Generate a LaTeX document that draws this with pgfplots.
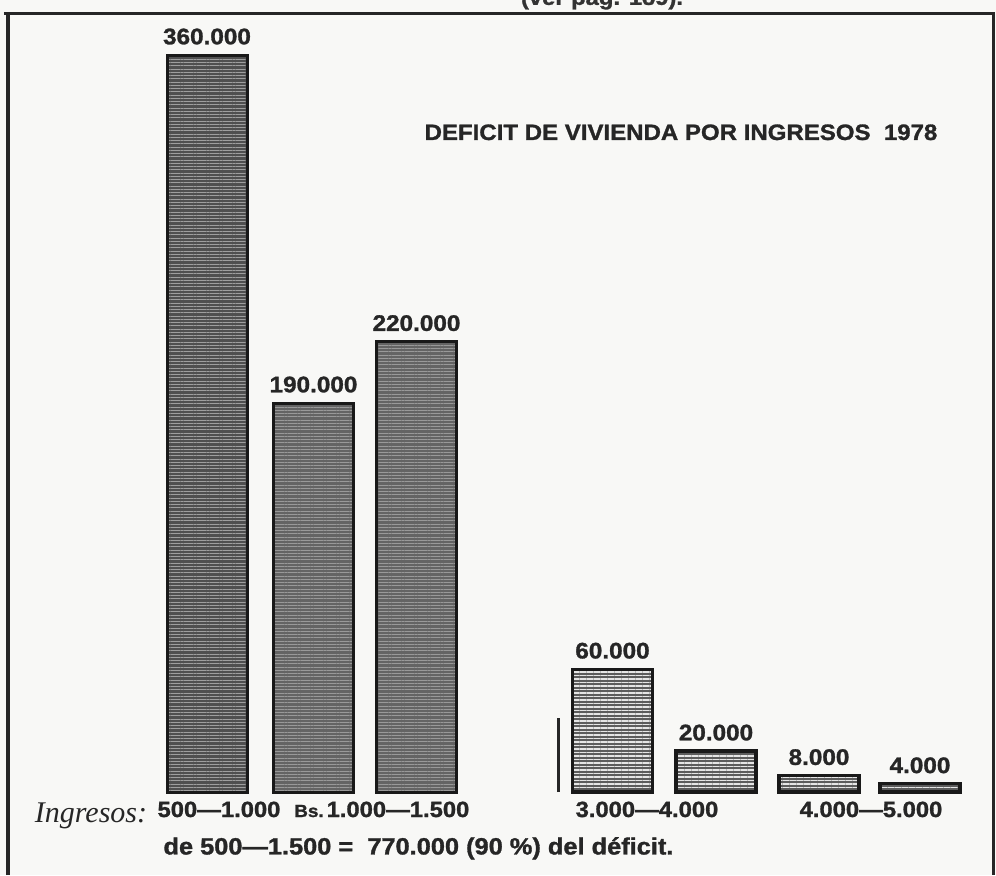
\documentclass[border=0pt]{standalone}
\usepackage{pgfplots}
\pgfplotsset{compat=1.18}
\usetikzlibrary{patterns.meta}
\usepackage{fontspec}
\setmainfont{Liberation Sans}[FakeStretch=1.08, BoldFeatures={FakeBold=1.3}]
\newfontfamily\hand{Liberation Serif}
\definecolor{bg}{RGB}{248,248,246}
\definecolor{barA}{RGB}{80,80,80}
\definecolor{barB}{RGB}{100,100,100}
\definecolor{barC}{RGB}{92,92,92}
\begin{document}
\begin{tikzpicture}
\begin{axis}[
  width=398.4pt, height=350pt, scale only axis,
  xmin=0, xmax=996, ymin=-40.54, ymax=386.87,
  axis lines=none, clip=false,
  axis background/.style={fill=bg},
  ybar, bar width=80,
  nodes near coords, point meta=explicit symbolic,
  every node near coord/.append style={font=\bfseries\fontsize{9}{10}\selectfont, anchor=base, yshift=4.3pt, inner sep=0pt, text=black!85},
]
\addplot[fill=barA, draw=black!90, line width=1.2pt, bar shift=0pt,
  postaction={pattern={Lines[angle=0,distance=1.3pt,line width=0.35pt]}, pattern color=gray!75}] table[x=x, y=y, meta=lab] {
x y lab
207 360 360.000
};
\addplot[fill=barB, draw=black!90, line width=1.2pt, bar shift=0pt,
  postaction={pattern={Lines[angle=0,distance=1.3pt,line width=0.35pt]}, pattern color=gray!80}] table[x=x, y=y, meta=lab] {
x y lab
313.5 190 190.000
416.5 220 220.000
};
\addplot[fill=barC, draw=black!90, line width=1.3pt, bar shift=0pt,
  postaction={pattern={Lines[angle=0,distance=1.4pt,line width=0.45pt]}, pattern color=white!80!gray}] table[x=x, y=y, meta=lab] {
x y lab
612.5 60 60.000
716 20 20.000
819 8 8.000
920 4 4.000
};
% frame
\draw[line width=1.2pt, black!85] (axis cs:8,-40.54) -- (axis cs:8,380.5) -- (axis cs:993,380.5) -- (axis cs:993,-40.54);
\draw[line width=1.2pt, black!85] (axis cs:4,380.5) -- (axis cs:8,380.5);
% separator
\draw[line width=1.2pt, black!85] (axis cs:558,0) -- (axis cs:558,36.1);
% partial text cut off at the top
\node[font=\bfseries\fontsize{8.8}{10}\selectfont, anchor=base, text=black!80] at (axis cs:602,384.5) {(ver pág. 189).};
% title
\node[font=\bfseries\fontsize{8.9}{11}\selectfont, anchor=base, text=black!85] at (axis cs:681,318.5) {DEFICIT DE VIVIENDA POR INGRESOS \ 1978};
% bottom labels
\node[font=\hand\itshape\fontsize{12}{14}\selectfont, anchor=base, text=black!85] at (axis cs:91,-15.0) {Ingresos:};
\node[font=\bfseries\fontsize{8.8}{10}\selectfont, anchor=base, text=black!85] at (axis cs:219,-12.2) {500---1.000};
\node[font=\bfseries\fontsize{7}{8}\selectfont, anchor=base, text=black!85] at (axis cs:309,-12.2) {Bs.};
\node[font=\bfseries\fontsize{8.8}{10}\selectfont, anchor=base, text=black!85] at (axis cs:398,-12.2) {1.000---1.500};
\node[font=\bfseries\fontsize{8.8}{10}\selectfont, anchor=base, text=black!85] at (axis cs:647,-12.2) {3.000---4.000};
\node[font=\bfseries\fontsize{8.8}{10}\selectfont, anchor=base, text=black!85] at (axis cs:871,-12.2) {4.000---5.000};
\node[font=\bfseries\fontsize{9.4}{11}\selectfont, anchor=base west, inner sep=0pt, text=black!85] at (axis cs:163,-30.5) {de 500---1.500 = \ 770.000 (90 \%) del déficit.};
\end{axis}
\pgfresetboundingbox
\path (current axis.south west) rectangle (current axis.north east);
\end{tikzpicture}
\end{document}
